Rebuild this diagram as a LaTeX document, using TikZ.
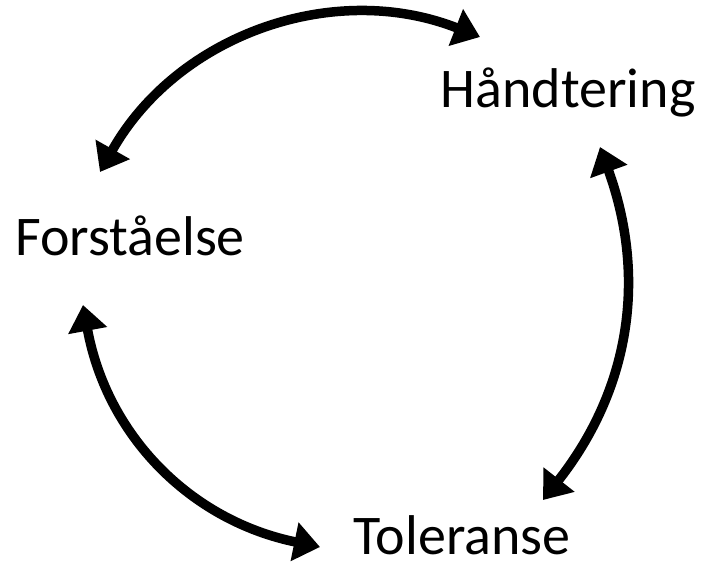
\documentclass[tikz,border=0pt]{standalone}
\usepackage{fontspec}
\setmainfont{Carlito}
\usetikzlibrary{arrows.meta}
\begin{document}
\begin{tikzpicture}[x=1pt,y=-1pt,
  lbl/.style={font=\fontsize{56}{62}\selectfont,inner sep=0pt},
  cyc/.style={line width=9.5pt,{Triangle[length=26pt,width=38pt]}-{Triangle[length=26pt,width=38pt]}}]
\useasboundingbox (0,0) rectangle (708,564);
\node[lbl,anchor=base] (hand) at (568,108) {Håndtering};
\node[lbl,anchor=base] (forst) at (130,255) {Forståelse};
\node[lbl,anchor=base] (tol) at (462,554) {Toleranse};
% ends of the arcs
\coordinate (fh) at (100,172);
\coordinate (hf) at (480,37);
\coordinate (ht) at (600,147);
\coordinate (th) at (543,500);
\coordinate (tf) at (320,547);
\coordinate (ft) at (83,305);
\draw[cyc] (fh) to[bend left=41] (hf);
\draw[cyc] (ht) to[bend left=29] (th);
\draw[cyc] (tf) to[bend left=34] (ft);
\end{tikzpicture}
\end{document}
